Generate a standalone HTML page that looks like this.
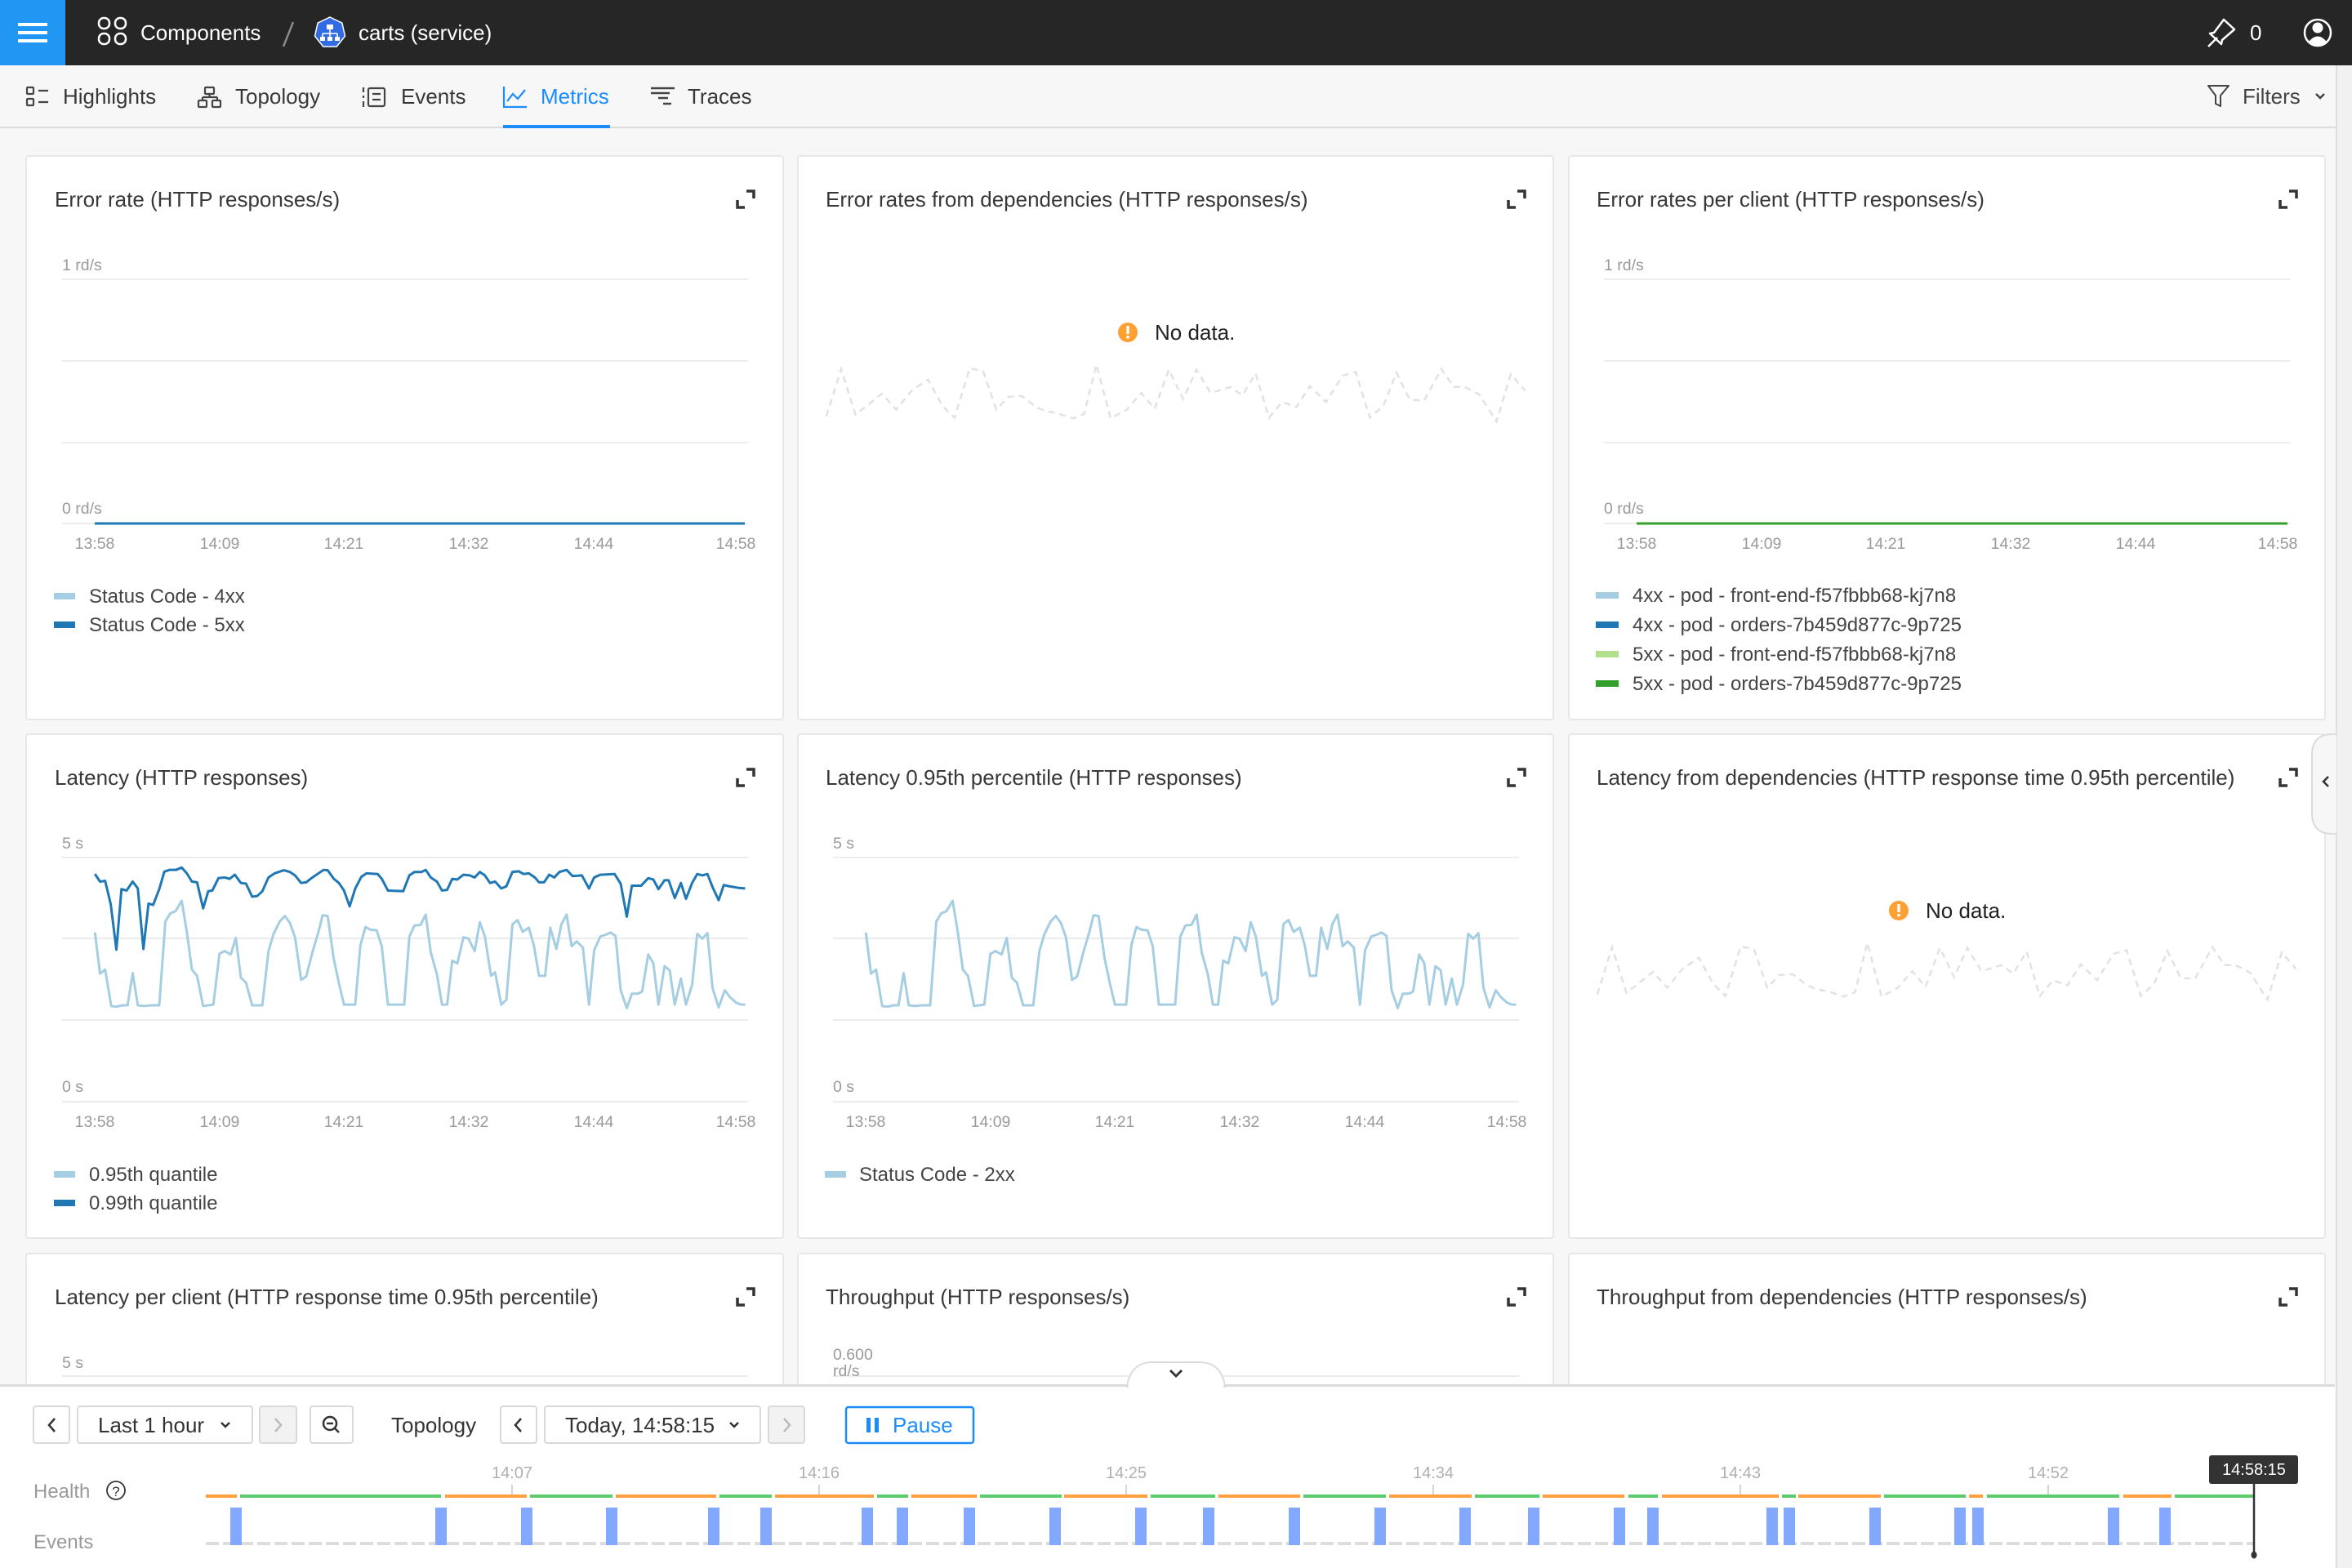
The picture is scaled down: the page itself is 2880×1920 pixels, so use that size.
<!DOCTYPE html>
<html><head><meta charset="utf-8"><style>
html,body{margin:0;padding:0;background:#f7f7f7;}
svg{display:block;}
text{font-family:"Liberation Sans",Arial,sans-serif;}
.t{font-size:26px;fill:#383838;}
.tk{font-size:19.5px;fill:#9a9a9a;}
.lg{font-size:24px;fill:#444;}
.gr{stroke:#ececec;stroke-width:2;}
.ex{stroke:#333;stroke-width:3.5;fill:none;}
</style></head><body>
<svg width="2880" height="1920" viewBox="0 0 2880 1920" xmlns="http://www.w3.org/2000/svg">
<rect x="0" y="0" width="2880" height="1920" fill="#f7f7f7"/>
<!-- top bar -->
<rect x="0" y="0" width="2880" height="80" fill="#262626"/>
<rect x="0" y="0" width="80" height="80" fill="#2196f3"/>
<rect x="22" y="28" width="36" height="4" fill="#fff"/><rect x="22" y="38" width="36" height="4" fill="#fff"/><rect x="22" y="48" width="36" height="4" fill="#fff"/>
<g stroke="#fff" stroke-width="2.5" fill="none"><rect x="121" y="22" width="13" height="13" rx="6"/><rect x="141" y="22" width="13" height="13" rx="6"/><rect x="121" y="41" width="13" height="13" rx="6"/><rect x="141" y="41" width="13" height="13" rx="6"/></g>
<text x="172" y="49" font-size="26" fill="#fff">Components</text>
<line x1="359" y1="27" x2="347" y2="57" stroke="#8a8a8a" stroke-width="2.5"/>
<polygon points="404,21 418.9,28.2 422.5,44.2 412.2,57.1 395.8,57.1 385.5,44.2 389.1,28.2" fill="#326ce5" stroke="#fff" stroke-width="1.5"/>
<g fill="#fff" stroke="#fff"><rect x="400" y="30" width="8" height="6" stroke="none"/><path d="M404 36V41M395 41H413M395 41V45M404 41V45M413 41V45" stroke-width="1.6" fill="none"/><rect x="392" y="45" width="6" height="5" stroke="none"/><rect x="401" y="45" width="6" height="5" stroke="none"/><rect x="410" y="45" width="6" height="5" stroke="none"/></g>
<text x="439" y="49" font-size="26" fill="#fff">carts (service)</text>
<path d="M2704 57L2715 46M2711 40L2723 24L2736 36L2721 49L2720 54L2706 41Z" stroke="#fff" stroke-width="2.5" fill="none" stroke-linejoin="round"/>
<text x="2755" y="49" font-size="26" fill="#fff">0</text>
<circle cx="2838" cy="40" r="16" stroke="#fff" stroke-width="2.5" fill="none"/>
<circle cx="2838" cy="34" r="6.5" fill="#fff"/>
<path d="M2827 51Q2838 38 2849 51Q2838 60 2827 51Z" fill="#fff"/>
<!-- tab bar -->
<rect x="0" y="80" width="2861" height="76" fill="#f7f7f7"/>
<rect x="0" y="155" width="2861" height="2" fill="#dcdcdc"/>
<rect x="616" y="153" width="131" height="4" fill="#1a8cff"/>
<g stroke="#444" stroke-width="2.2" fill="none"><rect x="33" y="107" width="8" height="8" rx="1"/><rect x="33" y="121" width="8" height="8" rx="1"/><path d="M47 111H59M47 125H59"/>
<rect x="251" y="107" width="11" height="8" rx="1"/><path d="M256.5 115V119M248 119H266M248 119V123M266 119V123"/><rect x="243" y="123" width="10" height="8" rx="1"/><rect x="260" y="123" width="10" height="8" rx="1"/>
<path d="M445 107V113M445 117V120M445 124V131"/><rect x="451" y="108" width="20" height="22" rx="2"/><path d="M456 115H466M456 122H466"/>
<path d="M797 108H826M797 114H820M806 120H818M812 127H822" stroke-width="2.6"/></g>
<g stroke="#1a8cff" stroke-width="2.2" fill="none"><path d="M617 106V131H645"/><path d="M621 124L628 115L634 121L643 110"/></g>
<text x="77" y="127" class="t" fill="#3c3c3c">Highlights</text>
<text x="288" y="127" class="t">Topology</text>
<text x="491" y="127" class="t">Events</text>
<text x="662" y="127" font-size="26" fill="#1a8cff">Metrics</text>
<text x="842" y="127" class="t">Traces</text>
<path d="M2704 105H2729L2719 117V130L2713 127V117Z" stroke="#444" stroke-width="2" fill="none" stroke-linejoin="round"/>
<text x="2746" y="127" font-size="26" fill="#444">Filters</text>
<path d="M2836 115L2841 120L2846 115" stroke="#444" stroke-width="2.5" fill="none"/>
<!-- right strip -->
<rect x="2861" y="80" width="19" height="1840" fill="#f1f1f1"/>
<line x1="2861" y1="80" x2="2861" y2="1920" stroke="#dedede" stroke-width="2"/>

<!-- panels -->
<g fill="#fff" stroke="#e7e7e7" stroke-width="2">
<rect x="32" y="191" width="927" height="690" rx="3"/>
<rect x="977" y="191" width="925" height="690" rx="3"/>
<rect x="1921" y="191" width="926" height="690" rx="3"/>
<rect x="32" y="899" width="927" height="617" rx="3"/>
<rect x="977" y="899" width="925" height="617" rx="3"/>
<rect x="1921" y="899" width="926" height="617" rx="3"/>
<rect x="32" y="1535" width="927" height="220" rx="3"/>
<rect x="977" y="1535" width="925" height="220" rx="3"/>
<rect x="1921" y="1535" width="926" height="220" rx="3"/>
</g>
<!-- titles -->
<text x="67" y="253" class="t">Error rate (HTTP responses/s)</text>
<text x="1011" y="253" class="t">Error rates from dependencies (HTTP responses/s)</text>
<text x="1955" y="253" class="t">Error rates per client (HTTP responses/s)</text>
<text x="67" y="961" class="t">Latency (HTTP responses)</text>
<text x="1011" y="961" class="t">Latency 0.95th percentile (HTTP responses)</text>
<text x="1955" y="961" class="t">Latency from dependencies (HTTP response time 0.95th percentile)</text>
<text x="67" y="1597" class="t">Latency per client (HTTP response time 0.95th percentile)</text>
<text x="1011" y="1597" class="t">Throughput (HTTP responses/s)</text>
<text x="1955" y="1597" class="t">Throughput from dependencies (HTTP responses/s)</text>
<!-- expand icons -->
<g class="ex">
<path d="M914 234H923V243M903 245V254H912"/>
<path d="M1858 234H1867V243M1847 245V254H1856"/>
<path d="M2803 234H2812V243M2792 245V254H2801"/>
<path d="M914 942H923V951M903 953V962H912"/>
<path d="M1858 942H1867V951M1847 953V962H1856"/>
<path d="M2803 942H2812V951M2792 953V962H2801"/>
<path d="M914 1578H923V1587M903 1589V1598H912"/>
<path d="M1858 1578H1867V1587M1847 1589V1598H1856"/>
<path d="M2803 1578H2812V1587M2792 1589V1598H2801"/>
</g>

<!-- Row 1 charts -->
<g class="gr">
<line x1="76" y1="342" x2="916" y2="342"/><line x1="76" y1="442" x2="916" y2="442"/><line x1="76" y1="542" x2="916" y2="542"/><line x1="76" y1="641" x2="916" y2="641"/>
<line x1="1964" y1="342" x2="2804" y2="342"/><line x1="1964" y1="442" x2="2804" y2="442"/><line x1="1964" y1="542" x2="2804" y2="542"/><line x1="1964" y1="641" x2="2804" y2="641"/>
</g>
<line x1="116" y1="641" x2="912" y2="641" stroke="#1f78b4" stroke-width="3"/>
<line x1="2004" y1="641" x2="2801" y2="641" stroke="#33a02c" stroke-width="3"/>
<g class="tk">
<text x="76" y="331">1 rd/s</text><text x="76" y="629">0 rd/s</text>
<text x="1964" y="331">1 rd/s</text><text x="1964" y="629">0 rd/s</text>
</g>
<g class="tk" text-anchor="middle">
<text x="116" y="672">13:58</text><text x="269" y="672">14:09</text><text x="421" y="672">14:21</text><text x="574" y="672">14:32</text><text x="727" y="672">14:44</text><text x="901" y="672">14:58</text>
<text x="2004" y="672">13:58</text><text x="2157" y="672">14:09</text><text x="2309" y="672">14:21</text><text x="2462" y="672">14:32</text><text x="2615" y="672">14:44</text><text x="2789" y="672">14:58</text>
</g>
<rect x="66" y="726" width="26" height="8" fill="#a6cee3"/><text x="109" y="738" class="lg">Status Code - 4xx</text>
<rect x="66" y="761" width="26" height="8" fill="#1f78b4"/><text x="109" y="773" class="lg">Status Code - 5xx</text>
<rect x="1954" y="725" width="28" height="8" fill="#a6cee3"/><text x="1999" y="737" class="lg">4xx - pod - front-end-f57fbbb68-kj7n8</text>
<rect x="1954" y="761" width="28" height="8" fill="#1f78b4"/><text x="1999" y="773" class="lg">4xx - pod - orders-7b459d877c-9p725</text>
<rect x="1954" y="797" width="28" height="8" fill="#b2df8a"/><text x="1999" y="809" class="lg">5xx - pod - front-end-f57fbbb68-kj7n8</text>
<rect x="1954" y="833" width="28" height="8" fill="#33a02c"/><text x="1999" y="845" class="lg">5xx - pod - orders-7b459d877c-9p725</text>

<!-- no data -->
<path id="nd" d="M1011.9 509.7L1030 451.8L1047.5 507.8L1080 482.1L1097.5 501.4L1116.3 478.4L1136.3 464.7L1153.8 496.8L1168.8 511.5L1187.5 450.9L1203.8 454.6L1220 501.4L1235 485.8L1251.3 484.9L1268.8 498.6L1280 503.2L1295 506L1313.8 512.4L1327.5 506.9L1342.5 446.3L1360 512.4L1380 501.4L1397.5 481.2L1413.8 500.5L1431.3 452.7L1448.8 488.5L1465 452.7L1482.5 481.2L1506.3 473.8L1521.3 484L1537.5 457.3L1553.8 511.5L1570 492.2L1587.5 498.6L1603.8 472.9L1623.8 492.2L1643.8 460.1L1660 455.5L1677.5 511.5L1693.8 496.8L1710 456.4L1726.3 489.5L1743.8 490.4L1765 451.8L1780 473.8L1793.8 473.8L1811.3 483L1832.5 516.1L1850 458.2L1867.5 478.4" fill="none" stroke="#e2e2e2" stroke-width="2.5" stroke-dasharray="8 6"/>
<use href="#nd" transform="translate(944,708)"/>
<circle cx="1381" cy="407" r="12" fill="#ffa033"/><rect x="1379.3" y="399" width="3.4" height="10" fill="#fff"/><rect x="1379.3" y="411" width="3.4" height="3.4" fill="#fff"/>
<text x="1414" y="416" font-size="26" fill="#222">No data.</text>
<circle cx="2325" cy="1115" r="12" fill="#ffa033"/><rect x="2323.3" y="1107" width="3.4" height="10" fill="#fff"/><rect x="2323.3" y="1119" width="3.4" height="3.4" fill="#fff"/>
<text x="2358" y="1124" font-size="26" fill="#222">No data.</text>

<!-- Row 2 charts -->
<g class="gr">
<line x1="76" y1="1050" x2="916" y2="1050"/><line x1="76" y1="1149" x2="916" y2="1149"/><line x1="76" y1="1249" x2="916" y2="1249"/><line x1="76" y1="1349" x2="916" y2="1349"/>
<line x1="1020" y1="1050" x2="1860" y2="1050"/><line x1="1020" y1="1149" x2="1860" y2="1149"/><line x1="1020" y1="1249" x2="1860" y2="1249"/><line x1="1020" y1="1349" x2="1860" y2="1349"/>
</g>
<g class="tk">
<text x="76" y="1039">5 s</text><text x="76" y="1337">0 s</text>
<text x="1020" y="1039">5 s</text><text x="1020" y="1337">0 s</text>
</g>
<g class="tk" text-anchor="middle">
<text x="116" y="1380">13:58</text><text x="269" y="1380">14:09</text><text x="421" y="1380">14:21</text><text x="574" y="1380">14:32</text><text x="727" y="1380">14:44</text><text x="901" y="1380">14:58</text>
<text x="1060" y="1380">13:58</text><text x="1213" y="1380">14:09</text><text x="1365" y="1380">14:21</text><text x="1518" y="1380">14:32</text><text x="1671" y="1380">14:44</text><text x="1845" y="1380">14:58</text>
</g>
<path id="lt" transform="translate(0,880) scale(0.625,0.42088)" vector-effect="non-scaling-stroke" fill="none" stroke="#a6cee3" stroke-width="3" stroke-linejoin="round" d="M186 622L196 742L206 730L218 836L228 838L240 834L250 834L260 740L270 834L282 836L296 834L312 834L324 590L334 566L344 560L356 530L366 620L376 730L386 748L398 836L418 832L430 684L440 676L452 686L462 638L472 754L482 768L494 834L514 834L526 676L536 626L548 590L558 574L568 594L578 636L590 760L600 750L612 680L624 620L632 572L642 574L654 700L664 770L674 832L696 832L706 660L716 606L726 614L738 616L748 662L760 832L792 832L802 634L812 602L824 600L834 570L844 680L856 744L866 832L876 832L886 704L896 712L908 636L918 640L930 676L940 592L950 634L962 748L970 738L982 832L992 818L1004 598L1014 586L1024 620L1036 608L1046 660L1056 748L1068 748L1078 608L1090 670L1100 598L1110 570L1120 662L1130 648L1142 666L1154 832L1164 674L1176 634L1188 628L1196 622L1206 632L1216 790L1228 842L1238 800L1250 800L1258 794L1270 686L1280 712L1290 832L1302 720L1312 732L1322 832L1334 756L1344 832L1356 774L1366 626L1376 640L1386 624L1396 784L1408 840L1420 790L1430 810L1442 826L1452 832L1460 832"/>
<path transform="translate(0,880) scale(0.625,0.42088)" vector-effect="non-scaling-stroke" fill="none" stroke="#1f78b4" stroke-width="3" stroke-linejoin="round" d="M186 452L196 474L206 472L217 540L228 672L238 496L248 500L260 474L270 494L281 670L291 538L300 542L312 496L322 445L332 440L345 440L356 433L366 450L376 474L386 476L398 552L408 502L416 500L428 464L440 462L450 466L460 454L472 478L482 480L494 518L504 516L514 502L526 462L538 450L556 441L568 446L578 456L590 478L600 476L612 462L624 450L634 440L642 441L654 466L664 478L674 500L685 546L696 494L708 460L718 450L740 452L748 466L760 500L790 502L802 456L812 446L826 446L834 440L844 462L856 474L866 500L876 498L886 466L896 468L908 454L920 456L930 462L940 446L950 456L960 478L970 474L982 494L992 488L1004 446L1016 444L1026 452L1036 450L1048 462L1056 476L1066 476L1076 454L1086 462L1096 446L1110 440L1122 458L1140 456L1154 494L1164 462L1176 454L1204 452L1216 480L1228 576L1238 486L1256 486L1270 464L1280 468L1290 496L1302 470L1310 470L1322 522L1334 478L1344 524L1356 478L1366 452L1376 456L1386 452L1396 490L1408 528L1418 484L1430 488L1446 492L1460 494"/>
<path transform="translate(944,880) scale(0.625,0.42088)" vector-effect="non-scaling-stroke" fill="none" stroke="#a6cee3" stroke-width="3" stroke-linejoin="round" d="M186 622L196 742L206 730L218 836L228 838L240 834L250 834L260 740L270 834L282 836L296 834L312 834L324 590L334 566L344 560L356 530L366 620L376 730L386 748L398 836L418 832L430 684L440 676L452 686L462 638L472 754L482 768L494 834L514 834L526 676L536 626L548 590L558 574L568 594L578 636L590 760L600 750L612 680L624 620L632 572L642 574L654 700L664 770L674 832L696 832L706 660L716 606L726 614L738 616L748 662L760 832L792 832L802 634L812 602L824 600L834 570L844 680L856 744L866 832L876 832L886 704L896 712L908 636L918 640L930 676L940 592L950 634L962 748L970 738L982 832L992 818L1004 598L1014 586L1024 620L1036 608L1046 660L1056 748L1068 748L1078 608L1090 670L1100 598L1110 570L1120 662L1130 648L1142 666L1154 832L1164 674L1176 634L1188 628L1196 622L1206 632L1216 790L1228 842L1238 800L1250 800L1258 794L1270 686L1280 712L1290 832L1302 720L1312 732L1322 832L1334 756L1344 832L1356 774L1366 626L1376 640L1386 624L1396 784L1408 840L1420 790L1430 810L1442 826L1452 832L1460 832"/>
<rect x="66" y="1434" width="26" height="8" fill="#a6cee3"/><text x="109" y="1446" class="lg">0.95th quantile</text>
<rect x="66" y="1469" width="26" height="8" fill="#1f78b4"/><text x="109" y="1481" class="lg">0.99th quantile</text>
<rect x="1010" y="1434" width="26" height="8" fill="#a6cee3"/><text x="1052" y="1446" class="lg">Status Code - 2xx</text>

<!-- right side collapse tab -->
<path d="M2861 899H2856Q2831 899 2831 924V996Q2831 1021 2856 1021H2861" fill="#f7f7f7" stroke="#dcdcdc" stroke-width="2"/>
<path d="M2851 951L2845 957L2851 963" stroke="#333" stroke-width="2.5" fill="none"/>

<!-- Row 3 partial -->
<line x1="76" y1="1685" x2="916" y2="1685" class="gr"/>
<line x1="1020" y1="1685" x2="1860" y2="1685" class="gr"/>
<text x="76" y="1675" class="tk">5 s</text>
<text x="1020" y="1665" class="tk">0.600</text>
<text x="1020" y="1685" class="tk">rd/s</text>

<!-- timeline panel -->
<rect x="0" y="1696" width="2859" height="224" fill="#fff"/>
<rect x="0" y="1695" width="2859" height="3" fill="#dcdcdc"/>
<path d="M1380 1698Q1384 1668 1412 1668H1468Q1496 1668 1500 1698Z" fill="#fff" stroke="#dcdcdc" stroke-width="2"/>
<rect x="1382" y="1697" width="116" height="4" fill="#fff"/>
<path d="M1433 1678L1440 1685L1447 1678" stroke="#333" stroke-width="2.8" fill="none"/>

<g fill="#fff" stroke="#d9d9d9" stroke-width="2">
<rect x="41" y="1722" width="44" height="45" rx="3"/>
<rect x="95" y="1722" width="214" height="45" rx="3"/>
<rect x="318" y="1722" width="45" height="45" rx="3" fill="#f2f2f2"/>
<rect x="380" y="1722" width="52" height="45" rx="3"/>
<rect x="613" y="1722" width="44" height="45" rx="3"/>
<rect x="667" y="1722" width="264" height="45" rx="3"/>
<rect x="941" y="1722" width="44" height="45" rx="3" fill="#f2f2f2"/>
</g>
<rect x="1036" y="1723" width="156" height="44" rx="3" fill="#fff" stroke="#1a8cff" stroke-width="2.5"/>
<g stroke="#333" stroke-width="2.5" fill="none">
<path d="M67 1737L60 1745L67 1753"/><path d="M638 1737L631 1745L638 1753"/>
<path d="M271 1742L276 1747L281 1742"/><path d="M894 1742L899 1747L904 1742"/>
<circle cx="404" cy="1743" r="8"/><path d="M410 1749L415 1754M400 1743H408"/>
</g>
<g stroke="#bbb" stroke-width="2.5" fill="none"><path d="M337 1737L344 1745L337 1753"/><path d="M960 1737L967 1745L960 1753"/></g>
<text x="120" y="1754" font-size="26" fill="#333">Last 1 hour</text>
<text x="479" y="1754" font-size="26" fill="#333">Topology</text>
<text x="692" y="1754" font-size="26" fill="#333">Today, 14:58:15</text>
<rect x="1061" y="1736" width="5" height="18" fill="#1a8cff"/><rect x="1071" y="1736" width="5" height="18" fill="#1a8cff"/>
<text x="1093" y="1754" font-size="26" fill="#1a8cff">Pause</text>

<text x="41" y="1834" font-size="24" fill="#9a9a9a">Health</text>
<circle cx="142" cy="1825" r="11" fill="none" stroke="#333" stroke-width="1.8"/>
<text x="142" y="1832" font-size="17" fill="#333" text-anchor="middle">?</text>
<text x="41" y="1896" font-size="24" fill="#9a9a9a">Events</text>

<g font-size="20" fill="#b0b0b0" text-anchor="middle">
<text x="627" y="1810">14:07</text><text x="1003" y="1810">14:16</text><text x="1379" y="1810">14:25</text><text x="1755" y="1810">14:34</text><text x="2131" y="1810">14:43</text><text x="2508" y="1810">14:52</text>
</g>
<g stroke="#c8c8c8" stroke-width="1.5"><path d="M627 1818V1830M1003 1818V1830M1379 1818V1830M1755 1818V1830M2131 1818V1830M2508 1818V1830"/></g>
<g fill="#ffa040">
<rect x="252" y="1830" width="38" height="4"/><rect x="545" y="1830" width="100" height="4"/><rect x="754" y="1830" width="123" height="4"/><rect x="949" y="1830" width="121" height="4"/><rect x="1116" y="1830" width="80" height="4"/><rect x="1303" y="1830" width="102" height="4"/><rect x="1492" y="1830" width="100" height="4"/><rect x="1701" y="1830" width="101" height="4"/><rect x="1889" y="1830" width="100" height="4"/><rect x="2035" y="1830" width="143" height="4"/><rect x="2202" y="1830" width="101" height="4"/><rect x="2411" y="1830" width="17" height="4"/><rect x="2600" y="1830" width="59" height="4"/>
</g>
<g fill="#5ccb6c">
<rect x="294" y="1830" width="246" height="4"/><rect x="649" y="1830" width="101" height="4"/><rect x="881" y="1830" width="64" height="4"/><rect x="1074" y="1830" width="38" height="4"/><rect x="1200" y="1830" width="100" height="4"/><rect x="1409" y="1830" width="79" height="4"/><rect x="1596" y="1830" width="101" height="4"/><rect x="1806" y="1830" width="79" height="4"/><rect x="1994" y="1830" width="36" height="4"/><rect x="2182" y="1830" width="17" height="4"/><rect x="2307" y="1830" width="100" height="4"/><rect x="2433" y="1830" width="162" height="4"/><rect x="2663" y="1830" width="97" height="4"/>
</g>
<line x1="252" y1="1890" x2="2760" y2="1890" stroke="#dcdcdc" stroke-width="4" stroke-dasharray="16 5"/>
<g fill="#82a9ff">
<rect x="282" y="1846" width="14" height="46"/><rect x="533" y="1846" width="14" height="46"/><rect x="638" y="1846" width="14" height="46"/><rect x="742" y="1846" width="14" height="46"/><rect x="867" y="1846" width="14" height="46"/><rect x="931" y="1846" width="14" height="46"/><rect x="1055" y="1846" width="14" height="46"/><rect x="1098" y="1846" width="14" height="46"/><rect x="1180" y="1846" width="14" height="46"/><rect x="1285" y="1846" width="14" height="46"/><rect x="1390" y="1846" width="14" height="46"/><rect x="1473" y="1846" width="14" height="46"/><rect x="1578" y="1846" width="14" height="46"/><rect x="1683" y="1846" width="14" height="46"/><rect x="1787" y="1846" width="14" height="46"/><rect x="1871" y="1846" width="14" height="46"/><rect x="1976" y="1846" width="14" height="46"/><rect x="2017" y="1846" width="14" height="46"/><rect x="2163" y="1846" width="14" height="46"/><rect x="2184" y="1846" width="14" height="46"/><rect x="2289" y="1846" width="14" height="46"/><rect x="2393" y="1846" width="14" height="46"/><rect x="2415" y="1846" width="14" height="46"/><rect x="2581" y="1846" width="14" height="46"/><rect x="2644" y="1846" width="14" height="46"/>
</g>
<rect x="2705" y="1782" width="109" height="35" rx="3" fill="#333"/>
<text x="2760" y="1806" font-size="20" fill="#fff" text-anchor="middle">14:58:15</text>
<line x1="2760" y1="1817" x2="2760" y2="1903" stroke="#333" stroke-width="2.5"/>
<ellipse cx="2760" cy="1904" rx="3.5" ry="4.5" fill="#333"/>
</svg>
</body></html>
